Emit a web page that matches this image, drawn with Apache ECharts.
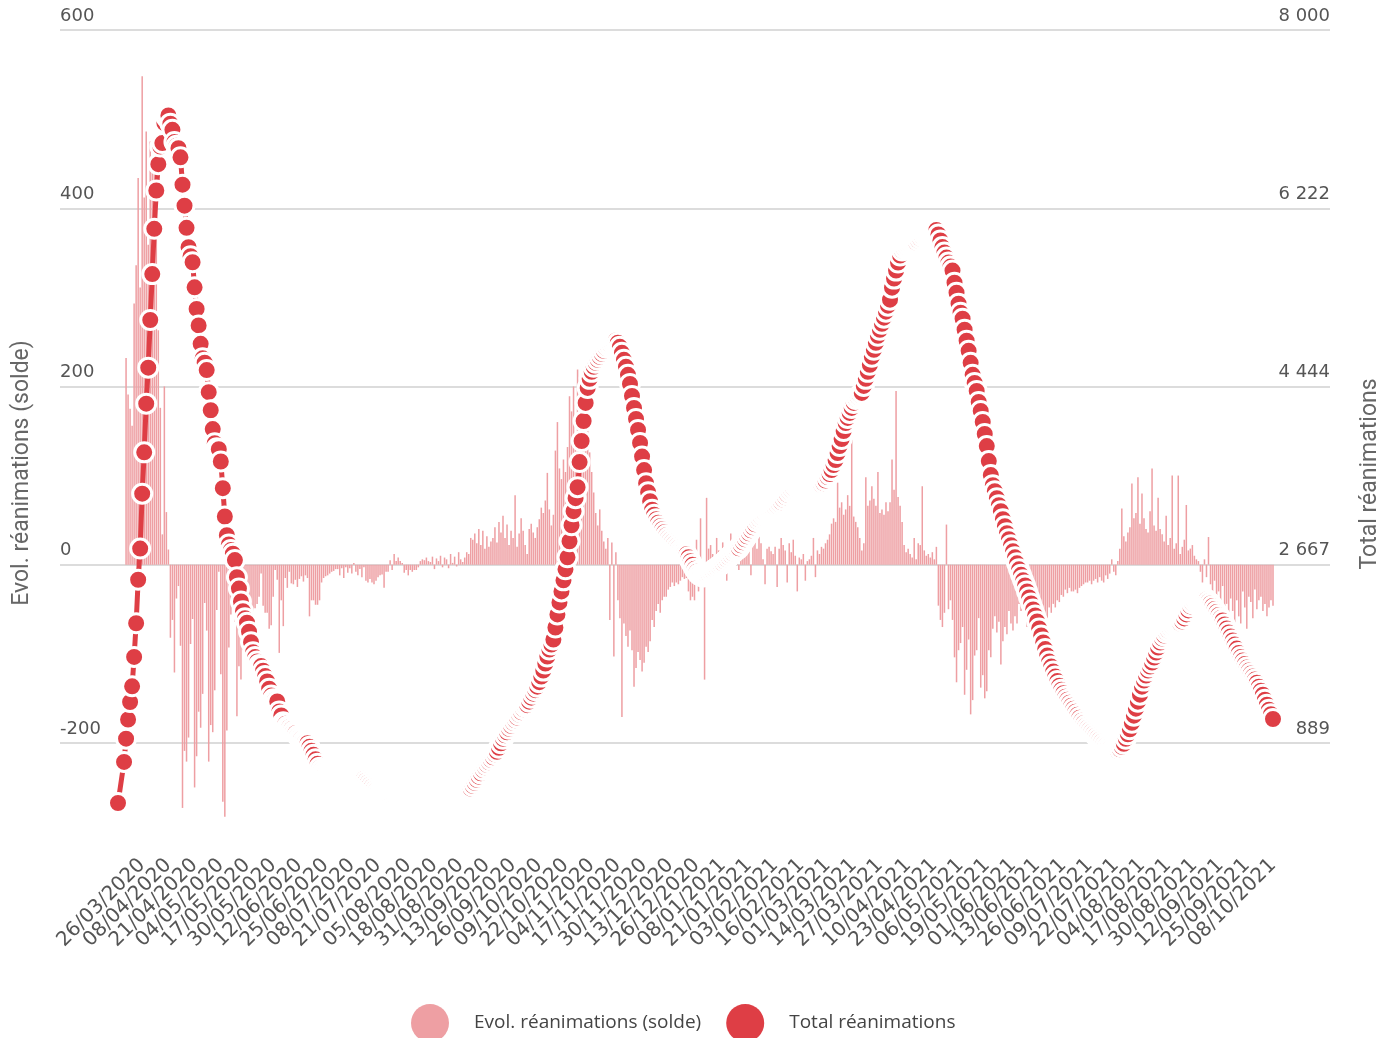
<!DOCTYPE html>
<html>
<head>
<meta charset="utf-8">
<script src="https://cdn.jsdelivr.net/npm/echarts@6/dist/echarts.min.js"></script>
<style>
html,body{margin:0;padding:0;background:#fff;}
#chart{width:1386px;height:1038px;}
</style>
</head>
<body>
<div id="chart"></div>
<script>
// ---- data -------------------------------------------------------------
const firstDay = [2020, 2, 14];           // 14/03/2020 (year, monthIndex, day)
const xTickLabels = ['26/03/2020','08/04/2020','21/04/2020','04/05/2020','17/05/2020','30/05/2020','12/06/2020','25/06/2020','08/07/2020','21/07/2020','05/08/2020','18/08/2020','31/08/2020','13/09/2020','26/09/2020','09/10/2020','22/10/2020','04/11/2020','17/11/2020','30/11/2020','13/12/2020','26/12/2020','08/01/2021','21/01/2021','03/02/2021','16/02/2021','01/03/2021','14/03/2021','27/03/2021','10/04/2021','23/04/2021','06/05/2021','19/05/2021','01/06/2021','13/06/2021','26/06/2021','09/07/2021','22/07/2021','04/08/2021','17/08/2021','30/08/2021','12/09/2021','25/09/2021','08/10/2021'];
const leftTicks = [-200, 0, 200, 400, 600];
const leftTickLabels = ['-200', '0', '200', '400', '600'];
const rightTickLabels = ['889', '2 667', '4 444', '6 222', '8 000'];

const total2020 = [
289,null,null,699,931,1122,1297,1453,1746,2082,2516,2827,3375,3787,4273,4632,5107,5565,
6017,6399,6662,6838,6872,7072,7131,7148,7066,7004,6883,6845,6821,6730,6457,6248,6027,5833,5744,5683,5433,5218,5053,4870,4725,4682,4608,4387,4207,4019,
3878,3827,3819,3696,3430,3147,2961,2868,2812,2776,2712,2542,2428,2299,2203,2132,2087,1998,1894,1794,1745,1701,1665,1655,1609,1555,1501,1429,1361,1325,1319,
1302,1203,1163,1094,1079,1053,1045,1024,1002,985,960,944,931,912,900,885,850,810,770,725,680,640,620,605,592,580,570,562,555,550,
545,540,535,530,527,524,520,519,521,525,530,535,538,530,512,492,472,452,432,414,398,386,376,366,358,352,350,356,366,376,384,
388,390,388,382,375,368,360,354,348,345,346,350,355,360,364,367,370,373,376,379,382,385,388,390,392,394,396,398,400,402,404,
407,410,414,420,432,460,490,520,552,585,618,645,670,695,720,745,775,800,840,885,930,965,995,1030,1060,1090,1115,1140,1170,1195,
1225,1250,1265,1300,1340,1380,1415,1450,1495,1550,1610,1680,1750,1820,1870,1920,2040,2170,2290,2400,2510,2620,2740,2900,3060,3200,3330,3440,3690,3900,4100,
4280,4430,4520,4590,4640,4680,4710,4740,4770,4800,4830,4850,4865,4880,4892,4903,4880,4840,4780,4710,4640,4560,4470,4350,4230,4120,4010,3880,3745,3610,
3480,3390,3300,3215,3165,3120,3085,3050,3020,2990,2960,2935,2915,2895,2875,2855,2835,2815,2800,2785,2770,2740,2700,2665,2625,2595,2572,2558,2548,2552,2562
];
const total2021 = [
2575,2590,2605,2620,2635,2650,2665,2680,2700,2720,2740,2760,2780,2800,2815,2830,2860,2890,2920,2950,2980,3010,3040,3070,3100,3120,3140,3160,3175,3190,3200,
3210,3220,3235,3250,3270,3290,3315,3340,3365,3390,3410,3430,3450,3460,3465,3468,3470,3468,3465,3460,3455,3450,3448,3448,3450,3460,3480,3505,
3540,3570,3610,3660,3710,3780,3850,3920,4000,4080,4130,4180,4230,4280,4320,4340,4360,4380,4450,4520,4590,4660,4740,4810,4880,4950,5010,5070,5130,5190,5250,
5310,5430,5520,5600,5680,5750,5800,5820,5835,5850,5860,5870,5875,5880,5900,5920,5940,5955,5965,5975,5985,5995,6000,6005,5960,5900,5835,5780,5730,5680,
5640,5600,5480,5380,5270,5180,5120,5010,4900,4800,4680,4560,4480,4400,4290,4200,4090,3970,3850,3700,3560,3460,3400,3330,3260,3200,3120,3050,2980,2920,2860,
2800,2740,2680,2620,2565,2510,2460,2400,2340,2280,2220,2160,2100,2030,1960,1890,1825,1760,1700,1650,1600,1550,1505,1460,1420,1385,1350,1320,1290,1260,
1230,1200,1170,1140,1110,1085,1060,1040,1020,1000,980,960,940,920,900,880,862,845,830,815,805,800,808,825,850,880,930,975,1025,1090,1160,
1230,1300,1370,1450,1510,1560,1610,1650,1690,1740,1790,1840,1890,1930,1960,1990,2010,2030,2045,2060,2070,2075,2080,2100,2130,2170,2210,2250,2280,2300,2315,
2325,2330,2334,2330,2320,2300,2280,2255,2225,2195,2165,2135,2110,2070,2030,1990,1950,1910,1870,1830,1785,1745,1710,1675,1640,1610,1580,1550,1520,1490,
1450,1410,1370,1320,1270,1220,1175,1127
];
const evol2020 = [
null,null,null,null,232,191,175,156,293,336,434,311,548,412,486,359,475,458,
452,382,263,176,34,200,59,17,-82,-62,-121,-38,-24,-91,-273,-209,-221,-194,-89,-61,-250,-215,-165,-183,-145,-43,-74,-221,-180,-188,
-141,-51,-8,-123,-266,-283,-186,-93,-56,-36,-64,-170,-114,-129,-96,-71,-45,-89,-104,-100,-49,-44,-36,-10,-46,-54,-54,-72,-68,-36,-6,
-17,-99,-40,-69,-15,-26,-8,-21,-22,-17,-25,-16,-13,-19,-12,-15,-58,-40,-40,-45,-45,-40,-20,-15,-13,-12,-10,-8,-7,-5,
-5,-12,-4,-15,-3,-9,-4,-10,2,-8,-12,-5,-14,-3,-18,-20,-16,-20,-22,-18,-14,-12,-11,-26,-8,-8,5,-6,12,4,8,
4,2,-9,-6,-12,-6,-8,-6,-6,-3,4,6,5,8,4,3,9,-5,7,4,10,-3,8,6,-4,12,2,9,-2,14,6,
3,8,14,12,30,28,35,24,40,22,38,18,32,20,26,30,42,25,48,36,55,30,45,22,38,30,78,20,35,52,
38,22,12,40,46,36,30,42,51,64,58,72,103,62,44,56,128,160,108,96,118,104,132,189,172,200,141,219,162,196,188,
176,166,126,104,81,58,44,62,38,26,18,30,-62,25,-103,14,-40,-60,-171,-66,-80,-92,-74,-96,-137,-116,-98,-107,-120,-110,
-92,-98,-86,-62,-70,-52,-44,-54,-40,-36,-36,-28,-25,-20,-24,-20,-22,-18,-14,-16,-15,-30,-40,-36,-40,28,-30,52,-14,-129,75
];
const evol2021 = [
18,22,12,-10,30,16,14,25,8,-18,20,35,12,24,10,-6,28,45,16,20,22,-12,30,26,18,40,24,6,-22,18,20,
15,12,20,-25,18,30,22,16,-20,24,14,28,10,-30,8,6,12,-18,4,6,10,30,-14,16,12,20,18,24,
28,34,46,52,48,92,64,70,56,62,78,66,140,54,48,42,30,16,24,98,66,72,88,74,66,104,58,62,56,70,60,
70,118,84,195,76,66,48,22,14,18,12,8,30,6,24,22,88,16,10,12,8,14,6,20,-46,-62,-70,-54,45,-50,
-40,-62,-104,-132,-96,-88,-70,-146,-118,-84,-168,-152,-102,-96,-60,-138,-124,-150,-142,-96,-104,-72,-58,-76,-64,-112,-86,-70,-78,-52,-66,
-74,-58,-66,-44,-52,-46,-40,-70,-64,-56,-72,-62,-54,-76,-68,-72,-58,-60,-48,-54,-44,-48,-40,-42,-34,-36,-28,-32,-26,-30,
-30,-28,-32,-26,-24,-22,-20,-20,-18,-22,-18,-16,-20,-14,-18,-20,-12,-16,-10,6,-8,-12,4,18,63,32,26,36,42,91,52,
58,98,46,80,52,40,36,60,108,44,38,75,40,34,26,55,22,30,100,18,24,100,12,20,28,67,16,18,22,10,6,
4,-8,-20,6,-14,31,-22,-36,-18,-48,-30,-56,-24,-62,-44,-70,-38,-52,-74,-40,-58,-66,-30,-48,-72,-36,-42,-60,-28,-50,
-40,-36,-52,-44,-58,-48,-40,-46
];

// ---- build ------------------------------------------------------------
const totalRea = total2020.concat(total2021);
const evolRea = evol2020.concat(evol2021);
const categories = [];
for (let i = 0; i < totalRea.length; i++) {
  const d = new Date(Date.UTC(firstDay[0], firstDay[1], firstDay[2] + i));
  const dd = String(d.getUTCDate()).padStart(2, '0');
  const mm = String(d.getUTCMonth() + 1).padStart(2, '0');
  categories.push(dd + '/' + mm + '/' + d.getUTCFullYear());
}

const RED = '#de3e45';
const PINK = '#ee9fa3';
const labelFont = 'DejaVu Sans';

// two label layers (alternate tick labels) so that the library's
// neighbour-overlap check never drops one of the dense rotated labels
function dateAxis(parity) {
  return {
    type: 'category', gridIndex: 0, data: categories, boundaryGap: false, position: 'bottom',
    axisLine: {show: false}, axisTick: {show: false}, splitLine: {show: false},
    axisLabel: {
      rotate: 45, margin: 30, color: '#555', fontFamily: labelFont, fontSize: 20,
      showMinLabel: true, showMaxLabel: true, hideOverlap: false,
      interval: function (idx, val) {
        const k = xTickLabels.indexOf(val);
        return k >= 0 && k % 2 === parity;
      }
    }
  };
}

const chart = echarts.init(document.getElementById('chart'), null, {renderer: 'canvas'});
chart.setOption({
  animation: false,
  backgroundColor: '#fff',
  grid: [
    {left: 118, right: 113, top: 30, bottom: 206, containLabel: false},
    {left: 60, right: 56, top: 30, bottom: 295, containLabel: false}
  ],
  xAxis: [
    dateAxis(0),
    {type: 'value', gridIndex: 1, min: 0, max: 1, show: false},
    dateAxis(1)
  ],
  yAxis: [
    {type: 'value', gridIndex: 0, min: -300, max: 600, show: false},
    {type: 'value', gridIndex: 0, min: 0, max: 8000, show: false},
    {
      type: 'value', gridIndex: 1, position: 'left', min: -200, max: 600, interval: 200,
      axisLine: {show: false}, axisTick: {show: false},
      axisLabel: {
        inside: true, margin: 0, color: '#555', fontFamily: labelFont, fontSize: 18,
        verticalAlign: 'bottom', padding: [0, 0, 5, 0],
        formatter: function (v) { return leftTickLabels[leftTicks.indexOf(v)]; }
      },
      splitLine: {show: true, lineStyle: {color: '#dcdcdc', width: 2}}
    },
    {
      type: 'value', gridIndex: 1, position: 'right', min: -200, max: 600, interval: 200,
      axisLine: {show: false}, axisTick: {show: false},
      axisLabel: {
        inside: true, margin: 0, color: '#555', fontFamily: labelFont, fontSize: 18,
        verticalAlign: 'bottom', padding: [0, 0, 5, 0],
        formatter: function (v) { return rightTickLabels[leftTicks.indexOf(v)]; }
      },
      splitLine: {show: false}
    }
  ],
  legend: {
    bottom: -9, left: 406, icon: 'circle', itemWidth: 38, itemHeight: 38, itemGap: 25,
    itemStyle: {borderWidth: 0},
    textStyle: {fontFamily: 'Open Sans', fontSize: 19, color: '#444', padding: [0, 0, 0, 20]},
    data: ['Evol. réanimations (solde)', 'Total réanimations']
  },
  graphic: [
    {type: 'text', x: 22, y: 473, rotation: Math.PI / 2,
     style: {text: 'Evol. réanimations (solde)', fill: '#666', font: '23px Roboto', textAlign: 'center', textVerticalAlign: 'middle'}},
    {type: 'text', x: 1370, y: 474, rotation: Math.PI / 2,
     style: {text: 'Total réanimations', fill: '#666', font: '23px Roboto', textAlign: 'center', textVerticalAlign: 'middle'}}
  ],
  series: [
    {
      name: 'Evol. réanimations (solde)', type: 'bar', xAxisIndex: 0, yAxisIndex: 0,
      data: evolRea, barCategoryGap: '25%', silent: true,
      itemStyle: {color: PINK}
    },
    {
      name: 'Total réanimations', type: 'line', xAxisIndex: 0, yAxisIndex: 1,
      data: totalRea, connectNulls: true, silent: true,
      showSymbol: true, showAllSymbol: true, symbol: 'circle', symbolSize: 19,
      itemStyle: {color: RED, borderColor: '#fff', borderWidth: 3},
      lineStyle: {color: RED, width: 5}
    }
  ]
});
</script>
</body>
</html>
